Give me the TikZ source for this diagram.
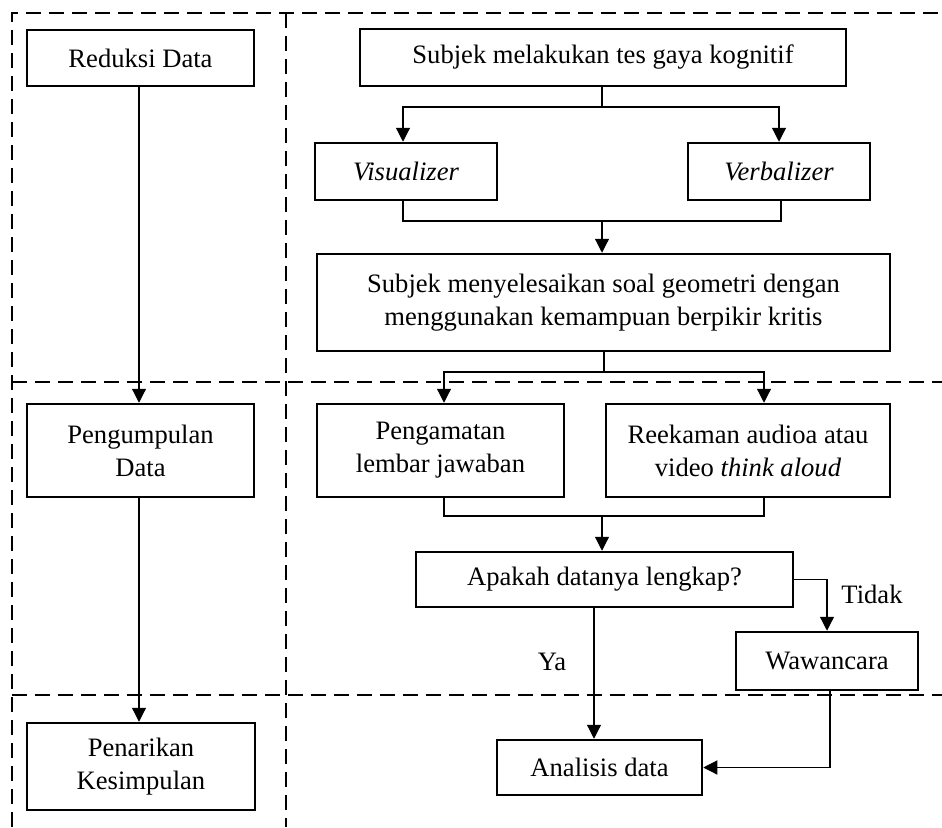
\documentclass[tikz,border=0pt]{standalone}
\usepackage{fontspec}
\setmainfont{Liberation Serif}
\usetikzlibrary{arrows.meta}

\tikzset{
  box/.style={draw, line width=2.5pt, inner sep=0pt, align=center,
              font=\fontsize{26.6}{33}\selectfont},
  arr/.style={line width=1.2pt, -{Triangle[width=14pt,length=14pt]}},
  conn/.style={line width=1.2pt},
  zone/.style={line width=2.5pt, dash pattern=on 15pt off 8pt},
  lbl/.style={font=\fontsize{26.6}{33}\selectfont, inner sep=0pt}
}

\begin{document}
\begin{tikzpicture}[x=1pt, y=-1pt]
\useasboundingbox (0,0) rectangle (942,827);

% phase boundaries
\draw[zone] (12,827) -- (12,13) -- (942,13);
\draw[zone] (286,13) -- (286,827);
\draw[zone] (12,382) -- (942,382);
\draw[zone] (12,695) -- (942,695);

% left column: stages of analysis
\node[box, minimum width=227pt, minimum height=56pt] (reduksi) at (140.5,58) {Reduksi Data};
\node[box, minimum width=227pt, minimum height=93pt] (kumpul) at (140.5,450.5) {Pengumpulan\\Data};
\node[box, minimum width=228pt, minimum height=87pt] (tarik) at (141,766.5) {Penarikan\\Kesimpulan};

\draw[arr] (reduksi.south -| 139,0) -- (kumpul.north -| 139,0);
\draw[arr] (kumpul.south -| 139,0) -- (tarik.north -| 139,0);

% right column: procedure
\node[box, minimum width=486pt, minimum height=57pt] (tes) at (603,57.5) {Subjek melakukan tes gaya kognitif};
\node[box, minimum width=182pt, minimum height=57pt] (vis) at (406,171.5) {\textit{Visualizer}};
\node[box, minimum width=182pt, minimum height=57pt] (verb) at (779,171.5) {\textit{Verbalizer}};
\node[box, minimum width=573pt, minimum height=97pt] (soal) at (603.5,302.5)
  {Subjek menyelesaikan soal geometri dengan\\menggunakan kemampuan berpikir kritis};
\node[box, minimum width=247pt, minimum height=93pt] (amat) at (440.5,450.5) {Pengamatan\\lembar jawaban};
\node[box, minimum width=284pt, minimum height=93pt] (rekam) at (748,450.5) {Reekaman audioa atau\\video \textit{think aloud}};
\node[box, minimum width=377pt, minimum height=55pt] (cek) at (604.5,579.5) {Apakah datanya lengkap?};
\node[box, minimum width=182pt, minimum height=58pt] (wawan) at (827,661) {Wawancara};
\node[box, minimum width=205pt, minimum height=55pt] (analisis) at (599.5,767.5) {Analisis data};

% junction points
\coordinate (j1) at (602,107);
\coordinate (j2) at (602,221);
\coordinate (j3) at (604,372);
\coordinate (j4) at (602,516);

\draw[conn] (tes.south -| j1) -- (j1);
\draw[arr] (j1) -| (vis.north -| 403,0);
\draw[arr] (j1) -| (verb.north -| 779,0);

\draw[conn] (vis.south -| 403,0) |- (j2);
\draw[conn] (verb.south -| 781,0) |- (j2);
\draw[arr] (j2) -- (soal.north -| j2);

\draw[conn] (soal.south -| j3) -- (j3);
\draw[arr] (j3) -| (amat.north -| 444,0);
\draw[arr] (j3) -| (rekam.north -| 764,0);

\draw[conn] (amat.south -| 444,0) |- (j4);
\draw[conn] (rekam.south -| 764,0) |- (j4);
\draw[arr] (j4) -- (cek.north -| j4);

\draw[arr] (cek.east) -| (wawan.north);
\node[lbl] (tidak) at (872,594) {Tidak};

\draw[arr] (cek.south -| 594,0) -- (analisis.north -| 594,0);
\node[lbl] (ya) at (552,662) {Ya};

\draw[arr] (wawan.south -| 830,0) |- (analisis.east);
\end{tikzpicture}
\end{document}
